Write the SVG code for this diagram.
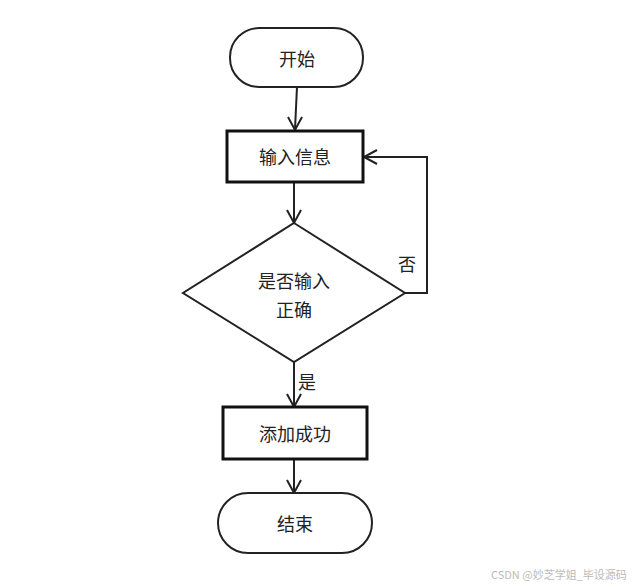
<svg xmlns="http://www.w3.org/2000/svg" width="641" height="587" viewBox="0 0 641 587">
<style>
.t{font-family:"Noto Sans CJK SC","Liberation Sans",sans-serif;font-size:18px;fill:#222;text-anchor:middle;dominant-baseline:central}
.term{fill:#fff;stroke:#222;stroke-width:2}
.box{fill:#fff;stroke:#111;stroke-width:3}
.ln{fill:none;stroke:#222;stroke-width:2}
.ah{fill:none;stroke:#222;stroke-width:2}
.wm{font-family:"Noto Sans CJK SC","Liberation Sans",sans-serif;font-size:11px;fill:#bbb}
</style>
<rect width="641" height="587" fill="#fff"/>
<g id="connectors">
<path class="ln" d="M297,87 L295,129"/>
<path class="ah" d="M288,117 L295,130 L302,117"/>
<path class="ln" d="M294,182 L294,222"/>
<path class="ah" d="M287,210 L294,223 L301,210"/>
<path class="ln" d="M405,293 L427,293 L427,157 L365,157"/>
<path class="ah" d="M377,150 L364,157 L377,164"/>
<path class="ln" d="M294,362 L294,406"/>
<path class="ah" d="M287,394 L294,407 L301,394"/>
<path class="ln" d="M294,459 L294,492"/>
<path class="ah" d="M287,480 L294,493 L301,480"/>
<text class="t" x="407" y="263">否</text>
<text class="t" x="307" y="381">是</text>
</g>
<g id="start">
<rect class="term" x="230" y="28" width="133" height="59" rx="29" ry="29"/>
<text class="t" x="297" y="58">开始</text>
</g>
<g id="input">
<rect class="box" x="227" y="131" width="136" height="51"/>
<text class="t" x="295" y="156">输入信息</text>
</g>
<g id="decision">
<polygon fill="#fff" stroke="#222" stroke-width="2" points="294,223 405,293 294,362 183,293"/>
<text class="t" x="294" y="280">是否输入</text>
<text class="t" x="294" y="309">正确</text>
</g>
<g id="add">
<rect class="box" x="223" y="407" width="144" height="52"/>
<text class="t" x="295" y="433">添加成功</text>
</g>
<g id="end">
<rect class="term" x="218" y="493" width="154" height="60" rx="30" ry="30"/>
<text class="t" x="295" y="523">结束</text>
</g>
<text class="wm" x="491" y="579">CSDN @妙芝学姐_毕设源码</text>
</svg>
